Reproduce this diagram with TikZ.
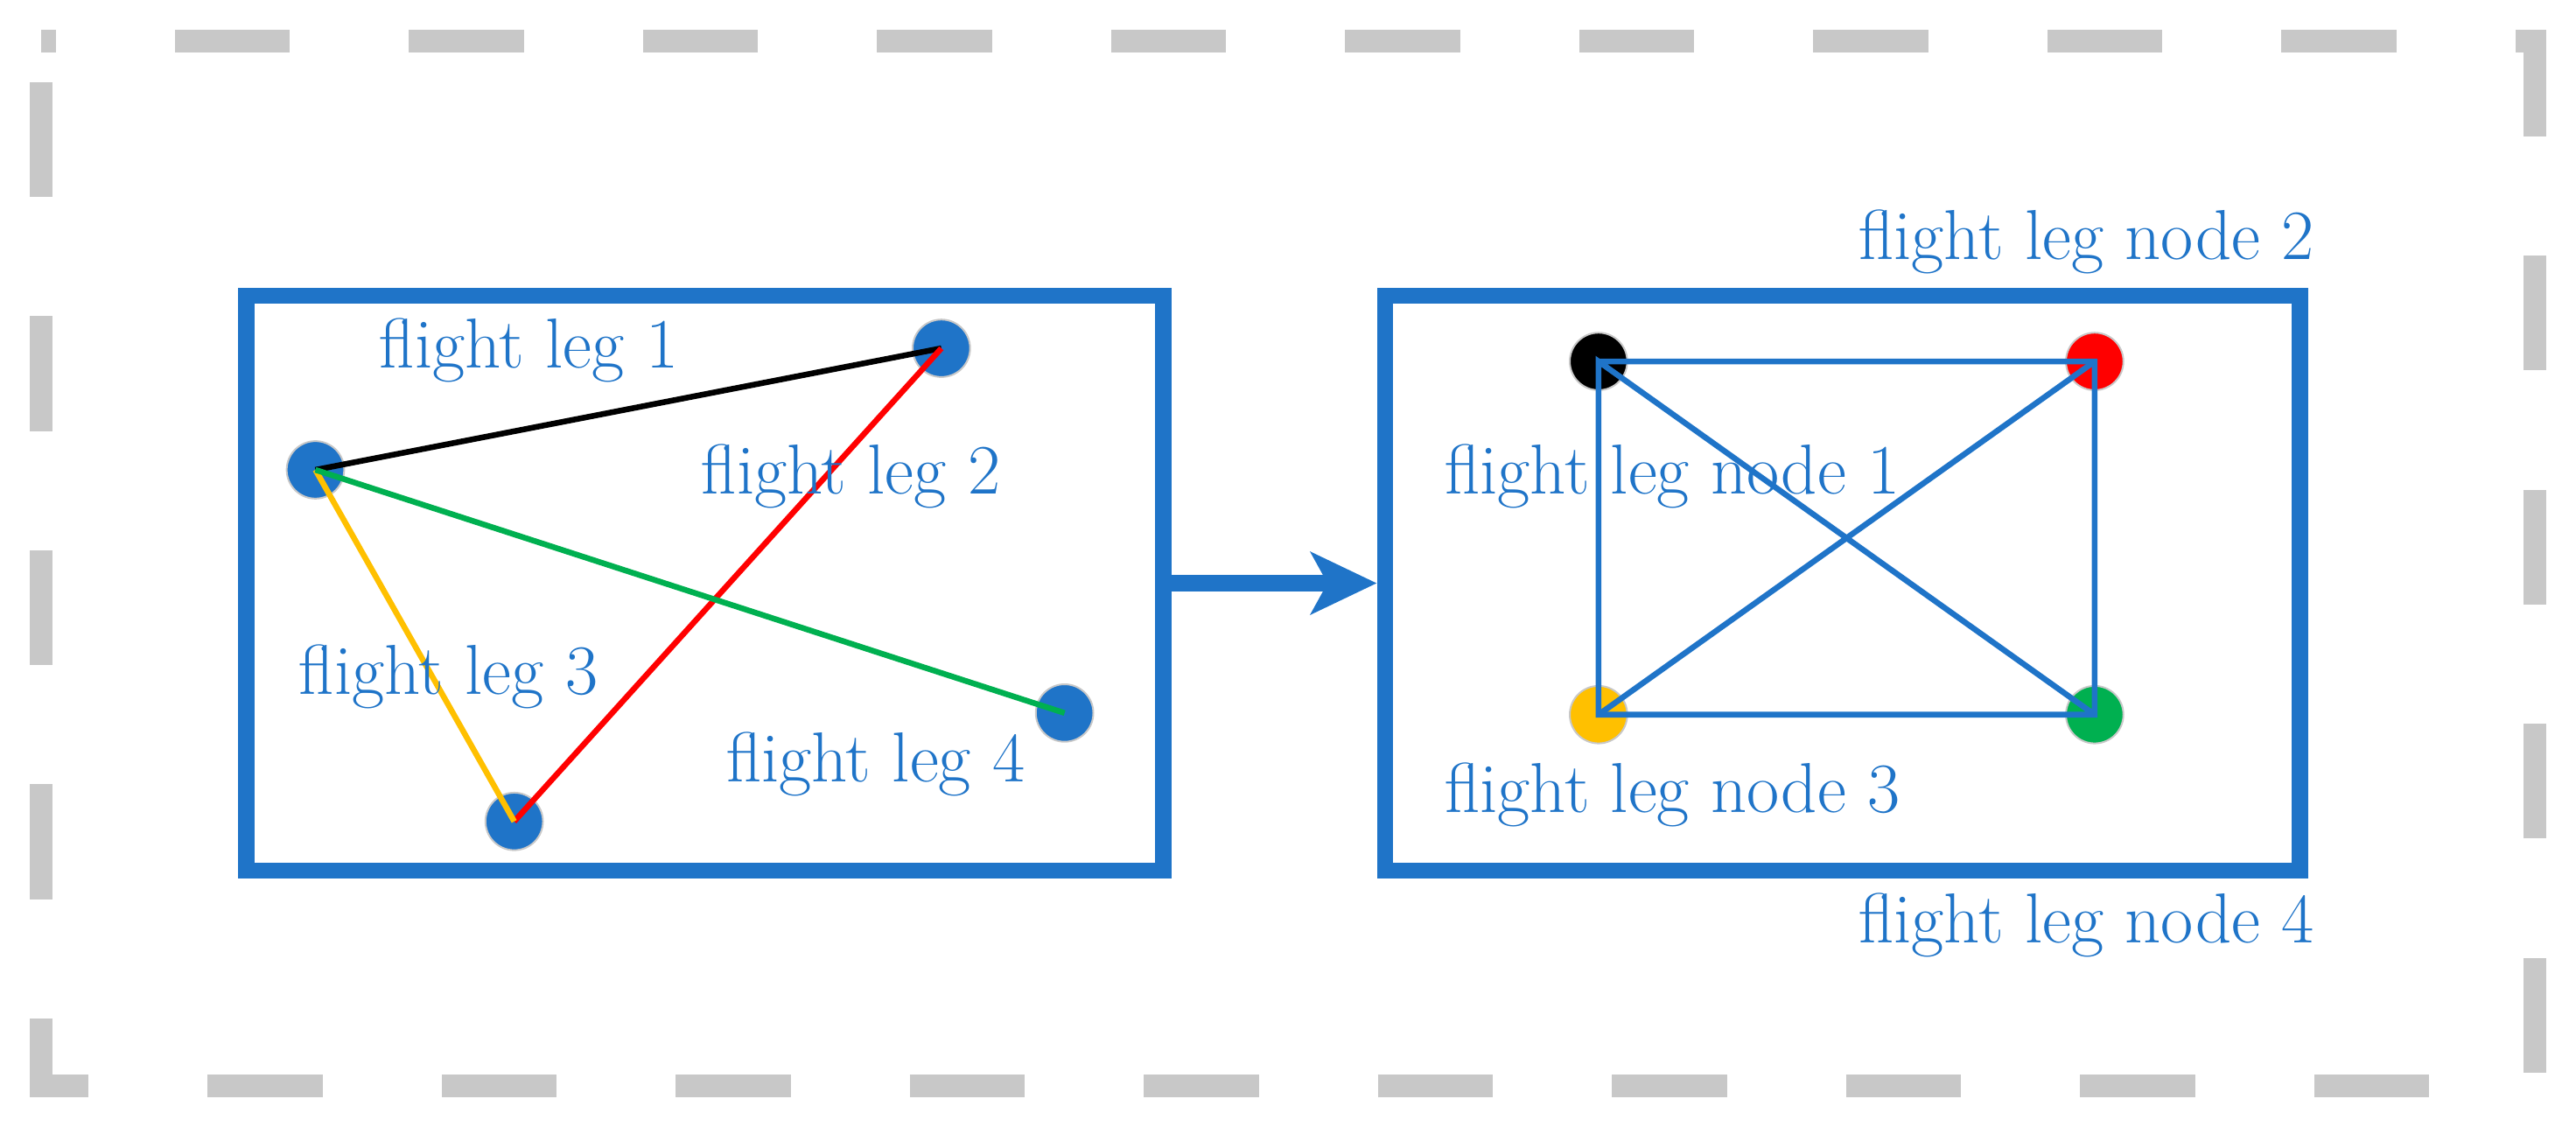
\documentclass[tikz,border=0pt]{standalone}
\usetikzlibrary{arrows.meta}
\definecolor{bl}{RGB}{31,116,200}
\definecolor{gr}{RGB}{200,200,200}
\definecolor{ye}{RGB}{255,192,0}
\definecolor{gn}{RGB}{0,176,80}
\begin{document}
\begin{tikzpicture}[x=0.02cm,y=-0.02cm,
  box/.style={draw=bl,line width=0.2cm},
  pt/.style={circle,minimum size=0.7cm,inner sep=0,draw=gr,line width=0.6pt},
  lab/.style={text=bl,font=\fontsize{24.5}{28}\selectfont},
  leg/.style={line width=0.07cm}]
\useasboundingbox (0,0) rectangle (1568,686);
\draw[gr,line width=0.28cm,dash pattern=on 1.4cm off 1.45cm,dash phase=-0.5cm] (25,25) rectangle (1543,661);
\node[box,minimum width=11.16cm,minimum height=7cm] (L) at (429,355) {};
\node[box,minimum width=11.14cm,minimum height=7cm] (R) at (1121.5,355) {};
\draw[bl,line width=0.2cm,-{Stealth[length=0.8cm,width=0.75cm,inset=0.2cm]}] (L.east) -- (R.west);
\node[pt,fill=bl] (A) at (192,286) {};
\node[pt,fill=bl] (B) at (573,212) {};
\node[pt,fill=bl] (C) at (313,500) {};
\node[pt,fill=bl] (D) at (648,434) {};
\draw[leg,black] (A.center) -- (B.center);
\draw[leg,red] (B.center) -- (C.center);
\draw[leg,ye] (A.center) -- (C.center);
\draw[leg,gn] (A.center) -- (D.center);
\node[lab] (l1) at (322,213) {flight leg 1};
\node[lab] (l2) at (518,290) {flight leg 2};
\node[lab] (l3) at (273,412) {flight leg 3};
\node[lab] (l4) at (533,465) {flight leg 4};
\node[pt,fill=black] (N1) at (973,220) {};
\node[pt,fill=red] (N2) at (1275,220) {};
\node[pt,fill=ye] (N3) at (973,435) {};
\node[pt,fill=gn] (N4) at (1275,435) {};
\draw[leg,bl] (N1.center) -- (N2.center) -- (N4.center) -- (N3.center) -- (N1.center) -- (N4.center);
\draw[leg,bl] (N3.center) -- (N2.center);
\node[lab] (m2) at (1270,147) {flight leg node 2};
\node[lab] (m1) at (1018,290) {flight leg node 1};
\node[lab] (m3) at (1018,484) {flight leg node 3};
\node[lab] (m4) at (1270,563) {flight leg node 4};
\end{tikzpicture}
\end{document}
